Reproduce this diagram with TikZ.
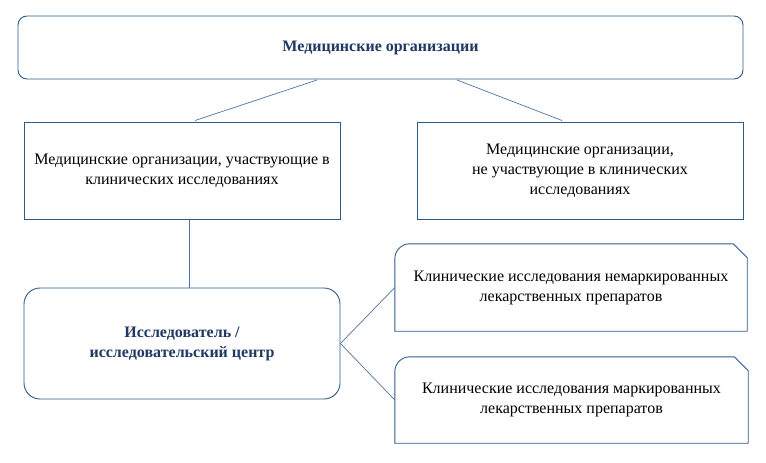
\documentclass[tikz,border=0pt]{standalone}
\usepackage{fontspec}
\setmainfont{Liberation Serif}
\definecolor{boxc}{HTML}{2E5A87}
\definecolor{linec}{HTML}{4A75A6}
\definecolor{titlec}{HTML}{1F3864}
\begin{document}
\begin{tikzpicture}[x=1pt,y=-1pt,
  box/.style={draw=boxc, line width=0.9pt, fill=white, inner sep=0pt, align=center, font=\fontsize{16}{20}\selectfont},
  plain/.style={inner sep=0pt, align=center, font=\fontsize{16}{20}\selectfont},
  conn/.style={draw=linec, line width=0.7pt},
  btitle/.style={font=\fontsize{16}{20}\selectfont\bfseries, text=titlec}]
\useasboundingbox (0,0) rectangle (766,463);
\node[box, rounded corners=9pt, minimum width=725pt, minimum height=63pt, btitle] (top) at (380.5,47.5) {Медицинские организации};
\node[box, minimum width=316pt, minimum height=97pt] (left) at (182,170.5) {Медицинские организации, участвующие в\\клинических исследованиях};
\node[box, minimum width=326pt, minimum height=97pt] (right) at (580,170.5) {Медицинские организации,\\не участвующие в клинических\\исследованиях};
\node[box, rounded corners=16pt, minimum width=316pt, minimum height=111pt, btitle] (res) at (182,343.5) {Исследователь /\\исследовательский центр};
\node[plain, minimum width=352pt, minimum height=87pt] (c1) at (571,287.5) {Клинические исследования немаркированных\\лекарственных препаратов};
\node[plain, minimum width=353pt, minimum height=86pt] (c2) at (571.5,400) {Клинические исследования маркированных\\лекарственных препаратов};
\foreach \n in {c1,c2}{
  \draw[draw=boxc, line width=0.9pt] (\n.south west) [rounded corners=15pt] -- (\n.north west) [sharp corners] -- ([xshift=-14pt]\n.north east) -- ([yshift=-14pt]\n.north east) -- (\n.south east) -- cycle;
}
\coordinate (t1) at (317,80);
\coordinate (t2) at (457,80);
\coordinate (l1) at (195,120.5);
\coordinate (r1) at (562,120.5);
\draw[conn] (t1) -- (l1);
\draw[conn] (t2) -- (r1);
\draw[conn] (left.south -| 189,0) -- (res.north -| 189,0);
\draw[conn] (res.east) -- (c1.west);
\draw[conn] (res.east) -- (c2.west);
\end{tikzpicture}
\end{document}
